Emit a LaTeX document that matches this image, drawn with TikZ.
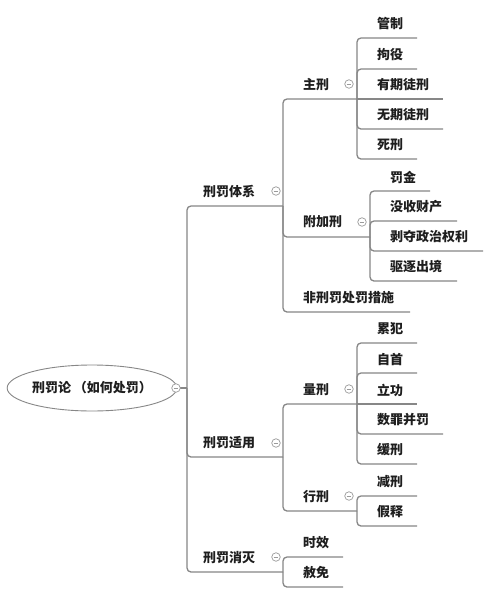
\documentclass[tikz,border=0pt]{standalone}
\usepackage{fontspec}
\setmainfont{Noto Sans CJK SC}
\usetikzlibrary{shapes.geometric}
\definecolor{linegray}{HTML}{878787}
\definecolor{foldgray}{HTML}{9A9A9A}
\definecolor{txt}{HTML}{1E1E1E}
\begin{document}
\begin{tikzpicture}[x=1pt,y=-1pt,
  conn/.style={draw=linegray, line width=1.3pt, rounded corners=4pt},
  lbl/.style={anchor=west, inner sep=0pt, font=\bfseries\fontsize{13}{15}\selectfont, text=txt},
  fold/.style={circle, draw=foldgray, fill=white, line width=0.7pt, minimum size=8.5pt, inner sep=0pt,
    path picture={\draw[foldgray, line width=0.7pt] ([xshift=-2.3pt]path picture bounding box.center) -- ([xshift=2.3pt]path picture bounding box.center);}},
  rootbox/.style={ellipse, draw=linegray, line width=0.9pt, minimum width=156pt, minimum height=46pt, inner sep=0pt, font=\bfseries\fontsize{13}{15}\selectfont, text=txt}
]
\useasboundingbox[fill=white] (0,0) rectangle (500,598);

% root
\node[rootbox] (root) at (92,388) {刑罚论 （如何处罚）};
\coordinate (rootJ) at (187,388);

% level 1
\node[lbl] (a) at (203,192) {刑罚体系};
\node[lbl] (b) at (203,443) {刑罚适用};
\node[lbl] (c) at (203,558) {刑罚消灭};
\coordinate (aE) at (283,206);
\coordinate (bE) at (283,457);
\coordinate (cE) at (283,572);

% level 2
\node[lbl] (a1) at (303,85) {主刑};
\node[lbl] (a2) at (303,222) {附加刑};
\node[lbl] (a3) at (303,298) {非刑罚处罚措施};
\coordinate (a1E) at (357,99);
\coordinate (a2E) at (370,237);
\coordinate (a3E) at (410,312);

\node[lbl] (b1) at (303,390) {量刑};
\node[lbl] (b2) at (303,497) {行刑};
\coordinate (b1E) at (357,404);
\coordinate (b2E) at (357,511);

\node[lbl] (c1) at (303,543) {时效};
\node[lbl] (c2) at (303,573) {赦免};
\coordinate (c1E) at (343,557);
\coordinate (c2E) at (343,587);

% level 3 under 主刑
\node[lbl] (a11) at (377,24) {管制};
\node[lbl] (a12) at (377,55) {拘役};
\node[lbl] (a13) at (377,85) {有期徒刑};
\node[lbl] (a14) at (377,115) {无期徒刑};
\node[lbl] (a15) at (377,145) {死刑};
\coordinate (a11E) at (417,38);
\coordinate (a12E) at (417,69);
\coordinate (a13E) at (443,99);
\coordinate (a14E) at (443,129);
\coordinate (a15E) at (417,159);

% level 3 under 附加刑
\node[lbl] (a21) at (390,177) {罚金};
\node[lbl] (a22) at (390,207) {没收财产};
\node[lbl] (a23) at (390,237) {剥夺政治权利};
\node[lbl] (a24) at (390,267) {驱逐出境};
\coordinate (a21E) at (430,191);
\coordinate (a22E) at (457,221);
\coordinate (a23E) at (483,251);
\coordinate (a24E) at (457,281);

% level 3 under 量刑
\node[lbl] (b11) at (377,329) {累犯};
\node[lbl] (b12) at (377,359) {自首};
\node[lbl] (b13) at (377,390) {立功};
\node[lbl] (b14) at (377,420) {数罪并罚};
\node[lbl] (b15) at (377,450) {缓刑};
\coordinate (b11E) at (417,343);
\coordinate (b12E) at (417,373);
\coordinate (b13E) at (417,404);
\coordinate (b14E) at (443,434);
\coordinate (b15E) at (417,464);

% level 3 under 行刑
\node[lbl] (b21) at (377,482) {减刑};
\node[lbl] (b22) at (377,512) {假释};
\coordinate (b21E) at (417,496);
\coordinate (b22E) at (417,526);

% connectors
\draw[conn] (root.east) -- (rootJ);
\foreach \t in {aE,bE,cE} \draw[conn] (rootJ) |- (\t);
\foreach \t in {a1E,a2E,a3E} \draw[conn] (aE) |- (\t);
\foreach \t in {b1E,b2E} \draw[conn] (bE) |- (\t);
\foreach \t in {c1E,c2E} \draw[conn] (cE) |- (\t);
\foreach \t in {a11E,a12E,a14E,a15E} \draw[conn] (a1E) |- (\t);
\draw[conn] (a1E) -- (a13E);
\foreach \t in {a21E,a22E,a23E,a24E} \draw[conn] (a2E) |- (\t);
\foreach \t in {b11E,b12E,b14E,b15E} \draw[conn] (b1E) |- (\t);
\draw[conn] (b1E) -- (b13E);
\foreach \t in {b21E,b22E} \draw[conn] (b2E) |- (\t);

% fold markers
\node[fold] (rootF) at (176,388) {};
\node[fold] (aF) at (276,191) {};
\node[fold] (bF) at (276,443) {};
\node[fold] (cF) at (276,557) {};
\node[fold] (a1F) at (349,84) {};
\node[fold] (a2F) at (362,222) {};
\node[fold] (b1F) at (349,389) {};
\node[fold] (b2F) at (349,496) {};
\end{tikzpicture}
\end{document}
